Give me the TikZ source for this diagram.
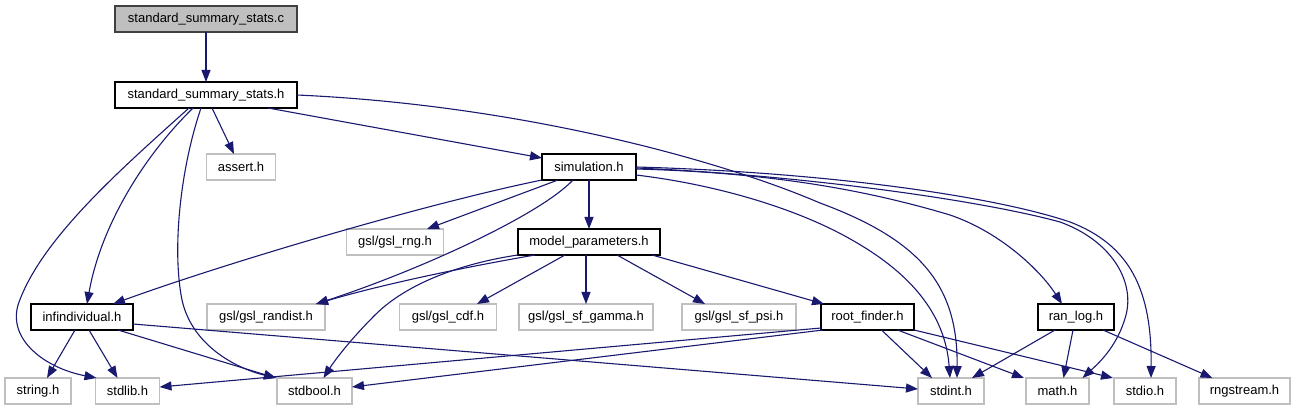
\documentclass[tikz,border=0pt]{standalone}
\usepackage{fontspec}
\setmainfont{Liberation Sans}
\usetikzlibrary{arrows.meta}
\definecolor{edgeblue}{HTML}{191970}
\definecolor{extgray}{HTML}{BFBFBF}
\definecolor{rootfill}{HTML}{BFBFBF}
\definecolor{rootline}{HTML}{404040}
\begin{document}
\begin{tikzpicture}[x=1pt,y=-1pt,
  box/.style={draw=black, line width=1.2pt, minimum height=26pt, inner sep=0pt, outer sep=0pt,
              font=\fontsize{13}{15}\selectfont, fill=white},
  ext/.style={box, draw=extgray},
  root/.style={box, draw=rootline, fill=rootfill},
  edge/.style={draw=edgeblue, line width=1.1pt, -{Triangle[length=12pt,width=9pt]}}]
\useasboundingbox (0,0) rectangle (1295,411);

% row 0
\node[root, minimum width=182pt] (c) at (206,19) {standard\_summary\_stats.c};
% row 1
\node[box, minimum width=182pt] (h) at (206,95) {standard\_summary\_stats.h};
% row 2
\node[ext, minimum width=69pt] (assert) at (241,167) {assert.h};
\node[box, minimum width=94pt] (sim) at (589,167) {simulation.h};
% row 3
\node[ext, minimum width=97pt] (rng) at (395,242) {gsl/gsl\_rng.h};
\node[box, minimum width=142pt] (mp) at (589,242) {model\_parameters.h};
% row 4
\node[box, minimum width=102pt] (inf) at (82,317) {infindividual.h};
\node[ext, minimum width=118pt] (randist) at (266,317) {gsl/gsl\_randist.h};
\node[ext, minimum width=97pt] (cdf) at (448,317) {gsl/gsl\_cdf.h};
\node[ext, minimum width=134pt] (gamma) at (586,317) {gsl/gsl\_sf\_gamma.h};
\node[ext, minimum width=114pt] (psi) at (739,317) {gsl/gsl\_sf\_psi.h};
\node[box, minimum width=93pt] (rf) at (867.5,317) {root\_finder.h};
\node[box, minimum width=76pt] (rl) at (1076,317) {ran\_log.h};
% row 5
\node[ext, minimum width=66pt] (string) at (38,391) {string.h};
\node[ext, minimum width=64pt] (stdlib) at (127.5,391) {stdlib.h};
\node[ext, minimum width=75pt] (stdbool) at (314.5,391) {stdbool.h};
\node[ext, minimum width=66pt] (stdint) at (951,391) {stdint.h};
\node[ext, minimum width=63pt] (math) at (1057.5,391) {math.h};
\node[ext, minimum width=62pt] (stdio) at (1145,391) {stdio.h};
\node[ext, minimum width=91pt] (rngstream) at (1244.5,391) {rngstream.h};

% standard_summary_stats.c
\draw[edge] (c.south) -- (h.north);

% standard_summary_stats.h
\draw[edge] ([xshift=6pt]h.south) -- ([xshift=-7pt]assert.north);
\draw[edge] ([xshift=62pt]h.south) -- ([yshift=9pt]sim.west);
\draw[edge] (h.east) .. controls (520,105) and (720,160) .. (820,203)
            .. controls (920,240) and (958,285) .. ([xshift=6pt]stdint.north);
\draw[edge] ([xshift=-13pt]h.south) .. controls (140,160) and (100,230) .. ([xshift=5pt]inf.north);
\draw[edge] ([xshift=-17pt]h.south) .. controls (120,170) and (40,240) .. (18,305)
            .. controls (8,340) and (45,368) .. ([xshift=1pt]stdlib.north west);
\draw[edge] ([xshift=-5pt]h.south) .. controls (180,170) and (172,250) .. (182,300)
            .. controls (192,345) and (235,368) .. ([xshift=-1pt]stdbool.north west);

% simulation.h
\draw[edge] (sim.south) -- (mp.north);
\draw[edge] ([xshift=-31pt]sim.south) -- ([xshift=32pt]rng.north);
\draw[edge] (sim.south west) .. controls (420,205) and (220,265) .. ([xshift=31pt]inf.north);
\draw[edge] ([xshift=-16pt]sim.south) .. controls (540,215) and (420,270) .. ([xshift=50pt]randist.north);
\draw[edge] ([yshift=-8pt]sim.east) .. controls (720,185) and (800,210) .. (852,240)
            .. controls (905,270) and (945,310) .. ([xshift=-1pt]stdint.north);
\draw[edge] ([yshift=-2pt]sim.east) .. controls (750,172) and (850,185) .. (950,215)
            .. controls (1000,232) and (1040,270) .. ([xshift=-14pt]rl.north);
\draw[edge] ([yshift=-1pt]sim.east) .. controls (800,175) and (980,200) .. (1060,222)
            .. controls (1110,240) and (1135,280) .. (1126,315)
            .. controls (1118,345) and (1100,362) .. ([xshift=25pt]math.north);
\draw[edge] (sim.east) .. controls (820,172) and (990,195) .. (1070,222)
            .. controls (1130,245) and (1152,290) .. ([xshift=6pt]stdio.north);

% model_parameters.h
\draw[edge] ([xshift=-54pt]mp.south) .. controls (460,268) and (380,285) .. ([xshift=50pt]randist.north);
\draw[edge] (mp.south west) .. controls (470,262) and (410,280) .. (375,315)
            .. controls (350,340) and (335,360) .. ([xshift=9pt]stdbool.north);
\draw[edge] ([xshift=-24pt]mp.south) -- ([xshift=29pt]cdf.north);
\draw[edge] ([xshift=-3pt]mp.south) -- (gamma.north);
\draw[edge] ([xshift=28pt]mp.south) -- ([xshift=-34pt]psi.north);
\draw[edge] ([xshift=-8pt]mp.south east) -- ([xshift=3pt]rf.north west);

% infindividual.h
\draw[edge] ([xshift=-7pt]inf.south) -- ([xshift=9pt]string.north);
\draw[edge] ([xshift=7pt]inf.south) -- ([xshift=-10pt]stdlib.north);
\draw[edge] ([xshift=36pt]inf.south) -- ([xshift=-1pt]stdbool.north west);
\draw[edge] ([yshift=-7pt]inf.east) -- ([yshift=2pt]stdint.west);

% root_finder.h
\draw[edge] ([yshift=-11pt]rf.west) -- ([yshift=4pt]stdlib.east);
\draw[edge] ([xshift=2pt]rf.south west) -- ([yshift=4pt]stdbool.east);
\draw[edge] ([xshift=14pt]rf.south) -- ([xshift=-19pt]stdint.north);
\draw[edge] ([xshift=30pt]rf.south) -- ([xshift=-2pt]math.north west);
\draw[edge] (rf.south east) -- ([xshift=-1pt]stdio.north west);

% ran_log.h
\draw[edge] ([xshift=-21pt]rl.south) -- ([xshift=21pt]stdint.north);
\draw[edge] ([xshift=-3pt]rl.south) -- ([xshift=6pt]math.north);
\draw[edge] ([xshift=27pt]rl.south) -- ([xshift=-32pt]rngstream.north);
\end{tikzpicture}
\end{document}
